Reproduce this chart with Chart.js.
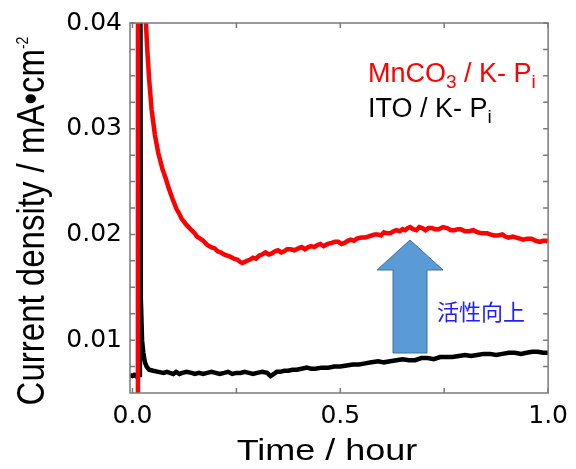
<!DOCTYPE html>
<html>
<head>
<meta charset="utf-8">
<script src="https://cdn.jsdelivr.net/npm/chart.js@4.4.0/dist/chart.umd.min.js"></script>
<style>
  html, body { margin: 0; padding: 0; background: #fff; }
  canvas { display: block; }
</style>
</head>
<body>
<canvas id="chart" width="576" height="469"></canvas>
<script>
// MnCO3 / K-Pi  (time in hour, current density in mA cm-2)
const MN_TIME = [
  0.013, 0.0135, 0.030, 0.032, 0.036, 0.040, 0.046, 0.054, 0.062, 0.072,
  0.080, 0.086, 0.096, 0.106, 0.112, 0.118, 0.130, 0.142, 0.150, 0.155,
  0.163, 0.170, 0.180, 0.189, 0.197, 0.205, 0.212, 0.220, 0.228, 0.235,
  0.244, 0.253, 0.259, 0.264, 0.270, 0.275, 0.282, 0.290, 0.297, 0.305,
  0.312, 0.320, 0.328, 0.335, 0.343, 0.350, 0.358, 0.365, 0.372, 0.380,
  0.390, 0.400, 0.407, 0.415, 0.423, 0.430, 0.438, 0.445, 0.452, 0.460,
  0.470, 0.479, 0.487, 0.495, 0.503, 0.510, 0.518, 0.525, 0.533, 0.540,
  0.550, 0.559, 0.567, 0.575, 0.583, 0.590, 0.598, 0.605, 0.613, 0.620,
  0.628, 0.635, 0.643, 0.650, 0.656, 0.662, 0.668, 0.675, 0.683, 0.690,
  0.697, 0.705, 0.712, 0.720, 0.728, 0.737, 0.747, 0.757, 0.766, 0.775,
  0.783, 0.790, 0.800, 0.810, 0.820, 0.830, 0.841, 0.853, 0.861, 0.870,
  0.880, 0.890, 0.897, 0.905, 0.915, 0.924, 0.932, 0.940, 0.950, 0.960,
  0.970, 0.980, 0.988, 0.996, 1.000
];
const MN_CURRENT = [
  0.0000, 0.0900, 0.0440, 0.0402, 0.0372, 0.0347, 0.0318, 0.0294, 0.0277, 0.0262,
  0.0253, 0.0245, 0.0234, 0.0224, 0.0220, 0.0215, 0.0209, 0.0204, 0.0201, 0.0198,
  0.0196, 0.0194, 0.0190, 0.0188, 0.0187, 0.0184, 0.0183, 0.0181, 0.0180, 0.0179,
  0.0177, 0.0176, 0.0174, 0.0173, 0.0174, 0.0175, 0.0176, 0.0178, 0.0177, 0.0180,
  0.0181, 0.0183, 0.0181, 0.0182, 0.0184, 0.0185, 0.0183, 0.0184, 0.0186, 0.0186,
  0.0185, 0.0187, 0.0188, 0.0186, 0.0188, 0.0189, 0.0188, 0.0190, 0.0191, 0.0189,
  0.0191, 0.0192, 0.0193, 0.0193, 0.0191, 0.0192, 0.0194, 0.0195, 0.0194, 0.0196,
  0.0197, 0.0197, 0.0198, 0.0199, 0.0200, 0.0200, 0.0199, 0.0202, 0.0201, 0.0201,
  0.0203, 0.0204, 0.0203, 0.0205, 0.0204, 0.0206, 0.0207, 0.0205, 0.0204, 0.0207,
  0.0206, 0.0204, 0.0206, 0.0206, 0.0205, 0.0205, 0.0207, 0.0206, 0.0204, 0.0204,
  0.0205, 0.0205, 0.0203, 0.0203, 0.0204, 0.0202, 0.0201, 0.0201, 0.0200, 0.0199,
  0.0199, 0.0200, 0.0198, 0.0197, 0.0198, 0.0197, 0.0196, 0.0195, 0.0196, 0.0196,
  0.0194, 0.0193, 0.0194, 0.0194, 0.0193
];

// ITO / K-Pi
const ITO_TIME = [
  -0.006, 0.000, 0.004, 0.008, 0.012, 0.0168, 0.0178, 0.020, 0.023, 0.026,
  0.030, 0.034, 0.040, 0.050, 0.062, 0.075, 0.083, 0.090, 0.098, 0.105,
  0.113, 0.120, 0.130, 0.142, 0.150, 0.160, 0.170, 0.180, 0.190, 0.200,
  0.210, 0.221, 0.230, 0.240, 0.250, 0.260, 0.270, 0.280, 0.290, 0.300,
  0.312, 0.324, 0.332, 0.340, 0.347, 0.355, 0.365, 0.375, 0.385, 0.395,
  0.407, 0.419, 0.430, 0.440, 0.455, 0.471, 0.485, 0.500, 0.515, 0.530,
  0.545, 0.560, 0.575, 0.591, 0.605, 0.620, 0.635, 0.650, 0.665, 0.680,
  0.695, 0.710, 0.725, 0.740, 0.755, 0.770, 0.785, 0.800, 0.815, 0.829,
  0.845, 0.860, 0.875, 0.890, 0.905, 0.920, 0.935, 0.948, 0.962, 0.975,
  0.988, 1.000
];
const ITO_CURRENT = [
  0.0067, 0.0066, 0.0067, 0.0066, 0.0068, 0.0067, 0.0900, 0.0140, 0.0100, 0.0088,
  0.0079, 0.0075, 0.0072, 0.0071, 0.0070, 0.0069, 0.0070, 0.0069, 0.0068, 0.0070,
  0.0068, 0.0069, 0.0070, 0.0069, 0.0068, 0.0069, 0.0068, 0.0069, 0.0070, 0.0069,
  0.0068, 0.0069, 0.0070, 0.0068, 0.0069, 0.0069, 0.0070, 0.0069, 0.0068, 0.0069,
  0.0070, 0.0069, 0.0066, 0.0068, 0.0070, 0.0070, 0.0071, 0.0071, 0.0072, 0.0072,
  0.0073, 0.0074, 0.0073, 0.0073, 0.0074, 0.0074, 0.0075, 0.0075, 0.0076, 0.0077,
  0.0077, 0.0078, 0.0079, 0.0080, 0.0079, 0.0080, 0.0081, 0.0082, 0.0081, 0.0081,
  0.0083, 0.0083, 0.0082, 0.0084, 0.0084, 0.0084, 0.0085, 0.0086, 0.0085, 0.0086,
  0.0087, 0.0087, 0.0086, 0.0087, 0.0088, 0.0088, 0.0087, 0.0088, 0.0089, 0.0089,
  0.0088, 0.0088
];

const X_TICKS  = [0, 0.25, 0.5, 0.75, 1.0];
const X_LABELS = ['0.0', '', '0.5', '', '1.0'];
const Y_TICKS  = [0.0075, 0.01, 0.0125, 0.015, 0.0175, 0.02, 0.0225, 0.025,
                  0.0275, 0.03, 0.0325, 0.035, 0.0375, 0.04];
const Y_LABELS = ['', '0.01', '', '', '', '0.02', '', '', '', '0.03', '', '', '', '0.04'];

const toPoints = (xs, ys) => xs.map((x, i) => ({ x, y: ys[i] }));

const AXIS_GREY = '#7a7a7a';
const TICK_FONT = { family: "'DejaVu Sans', sans-serif", size: 25 };

// draw a run of text pieces (sub/superscripts) left to right
function drawRuns(ctx, runs, x, y, color) {
  ctx.fillStyle = color;
  ctx.textBaseline = 'alphabetic';
  ctx.textAlign = 'left';
  for (const r of runs) {
    ctx.font = r.size + "px 'Liberation Sans', Arial, sans-serif";
    ctx.fillText(r.t, x, y + (r.dy || 0));
    x += ctx.measureText(r.t).width;
  }
}

const framePlugin = {
  id: 'frame',
  afterDatasetsDraw(chart) {
    const { ctx, chartArea: a, scales: { x, y } } = chart;
    ctx.save();
    ctx.strokeStyle = AXIS_GREY;
    ctx.lineWidth = 1.5;
    ctx.strokeRect(a.left, a.top, a.right - a.left, a.bottom - a.top);
    const tl = 5;
    ctx.beginPath();
    for (const t of x.ticks) {
      const px = x.getPixelForValue(t.value);
      ctx.moveTo(px, a.bottom); ctx.lineTo(px, a.bottom - tl);
      ctx.moveTo(px, a.top);    ctx.lineTo(px, a.top + tl);
    }
    for (const t of y.ticks) {
      const py = y.getPixelForValue(t.value);
      ctx.moveTo(a.left, py);  ctx.lineTo(a.left + tl, py);
      ctx.moveTo(a.right, py); ctx.lineTo(a.right - tl, py);
    }
    ctx.stroke();
    ctx.restore();
  },
  afterDraw(chart) {
    const { ctx } = chart;
    ctx.save();

    // block arrow
    const cx = 410, tip = 240, head = 270, base = 353;
    ctx.beginPath();
    ctx.moveTo(cx, tip);
    ctx.lineTo(cx + 33, head);
    ctx.lineTo(cx + 17, head);
    ctx.lineTo(cx + 17, base);
    ctx.lineTo(cx - 17, base);
    ctx.lineTo(cx - 17, head);
    ctx.lineTo(cx - 33, head);
    ctx.closePath();
    ctx.fillStyle = '#5b9bd5';
    ctx.fill();
    ctx.strokeStyle = '#41719c';
    ctx.lineWidth = 1;
    ctx.stroke();

    ctx.fillStyle = '#2020ff';
    ctx.font = "22px 'Noto Sans CJK JP', sans-serif";
    ctx.textBaseline = 'middle';
    ctx.textAlign = 'left';
    ctx.fillText('活性向上', 437, 312);

    // legend labels
    drawRuns(ctx, [{ t: 'MnCO', size: 27 }, { t: '3', size: 19, dy: 6 },
                   { t: ' / K- P', size: 27 }, { t: 'i', size: 19, dy: 6 }], 368, 82, '#ff0000');
    drawRuns(ctx, [{ t: 'ITO / K- P', size: 27 }, { t: 'i', size: 19, dy: 6 }], 368, 117, '#000000');

    // x axis title (horizontally stretched like the source)
    ctx.save();
    ctx.translate(327, 460);
    ctx.scale(1.2, 1);
    ctx.fillStyle = '#000';
    ctx.font = "30px 'Liberation Sans', Arial, sans-serif";
    ctx.textAlign = 'center';
    ctx.textBaseline = 'alphabetic';
    ctx.fillText('Time / hour', 0, 0);
    ctx.restore();

    // y axis title, rotated, with superscript
    ctx.save();
    ctx.translate(44, 221);
    ctx.scale(1.15, 1);
    ctx.rotate(-Math.PI / 2);
    const main = 'Current density / mA\u2022cm';
    ctx.font = "33px 'Liberation Sans', Arial, sans-serif";
    const wMain = ctx.measureText(main).width;
    ctx.font = "14px 'Liberation Sans', Arial, sans-serif";
    const wSup = ctx.measureText('-2').width;
    let sx = -(wMain + wSup) / 2;
    ctx.fillStyle = '#000';
    ctx.textAlign = 'left';
    ctx.textBaseline = 'alphabetic';
    ctx.font = "33px 'Liberation Sans', Arial, sans-serif";
    ctx.fillText(main, sx, 0);
    ctx.font = "14px 'Liberation Sans', Arial, sans-serif";
    ctx.fillText('-2', sx + wMain, -13.6);
    ctx.restore();

    ctx.restore();
  }
};

new Chart(document.getElementById('chart'), {
  type: 'line',
  data: {
    datasets: [
      { label: 'MnCO3 / K-Pi', data: toPoints(MN_TIME, MN_CURRENT),
        borderColor: '#ff0000', borderWidth: 4.5, pointRadius: 0, tension: 0, clip: 0 },
      { label: 'ITO / K-Pi', data: toPoints(ITO_TIME, ITO_CURRENT),
        borderColor: '#000000', borderWidth: 4.5, pointRadius: 0, tension: 0, clip: 0 },
    ],
  },
  options: {
    responsive: false,
    animation: false,
    layout: { padding: { top: 22, right: 24, left: 0, bottom: 0 } },
    plugins: { legend: { display: false }, tooltip: { enabled: false } },
    scales: {
      x: {
        type: 'linear', min: -0.006, max: 1.0,
        afterBuildTicks: s => { s.ticks = X_TICKS.map(v => ({ value: v })); },
        afterFit: s => { s.height = 76; },
        grid: { display: false, drawTicks: false },
        border: { display: false },
        ticks: { autoSkip: false, maxRotation: 0, padding: 8, color: '#000', font: TICK_FONT,
          callback: (v, i) => X_LABELS[i] },
      },
      y: {
        type: 'linear', min: 0.005, max: 0.04,
        afterBuildTicks: s => { s.ticks = Y_TICKS.map(v => ({ value: v })); },
        afterFit: s => { s.width = 130; },
        grid: { display: false, drawTicks: false },
        border: { display: false },
        ticks: { autoSkip: false, padding: 8, color: '#000', font: TICK_FONT,
          callback: (v, i) => Y_LABELS[i] },
      },
    },
  },
  plugins: [framePlugin],
});
</script>
</body>
</html>
